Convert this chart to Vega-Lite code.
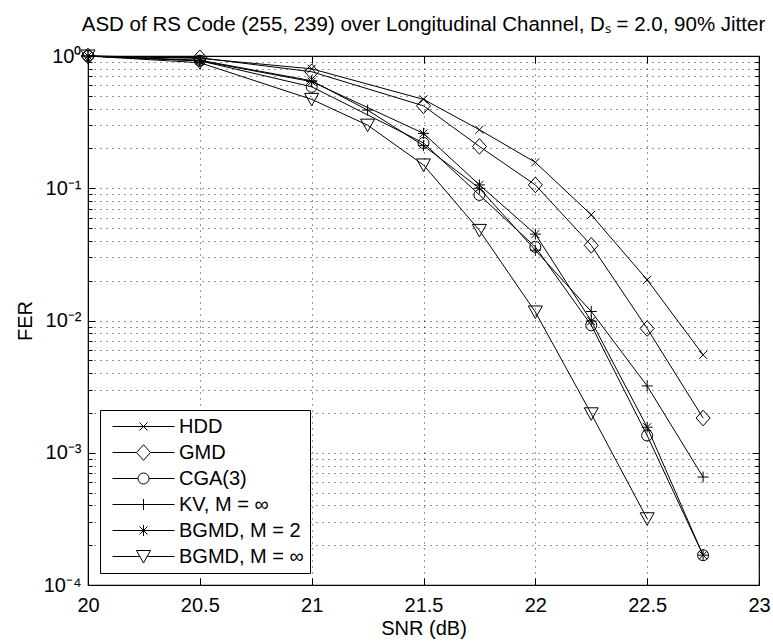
{
  "$schema": "https://vega.github.io/schema/vega-lite/v6.json",
  "width": 671,
  "height": 529,
  "autosize": {"type": "none"},
  "padding": {"left": 88, "top": 56, "right": 14, "bottom": 56},
  "background": "white",
  "title": {
    "text": "ASD of RS Code (255, 239) over Longitudinal Channel, Dₛ = 2.0, 90% Jitter",
    "font": "Liberation Sans",
    "fontSize": 20.5,
    "fontWeight": "normal",
    "color": "black",
    "anchor": "middle",
    "offset": 11
  },
  "config": {
    "view": {"stroke": "black", "strokeWidth": 1.2},
    "axis": {
      "labelFont": "Liberation Sans",
      "labelFontSize": 20,
      "labelColor": "black",
      "titleFont": "Liberation Sans",
      "titleFontSize": 20,
      "titleFontWeight": "normal",
      "titleColor": "black",
      "domainColor": "black",
      "tickColor": "black",
      "gridColor": "black",
      "gridDash": [1, 5],
      "gridOpacity": 0.85
    }
  },
  "data": {
    "values": [
      {"s": "HDD", "x": 20, "y": 1},
      {"s": "HDD", "x": 20.5, "y": 0.96},
      {"s": "HDD", "x": 21, "y": 0.8},
      {"s": "HDD", "x": 21.5, "y": 0.47},
      {"s": "HDD", "x": 21.75, "y": 0.277},
      {"s": "HDD", "x": 22, "y": 0.157},
      {"s": "HDD", "x": 22.25, "y": 0.063},
      {"s": "HDD", "x": 22.5, "y": 0.0203},
      {"s": "HDD", "x": 22.75, "y": 0.0055},
      {"s": "GMD", "x": 20, "y": 1},
      {"s": "GMD", "x": 20.5, "y": 0.97},
      {"s": "GMD", "x": 21, "y": 0.76},
      {"s": "GMD", "x": 21.5, "y": 0.42},
      {"s": "GMD", "x": 21.75, "y": 0.207},
      {"s": "GMD", "x": 22, "y": 0.106},
      {"s": "GMD", "x": 22.25, "y": 0.037},
      {"s": "GMD", "x": 22.5, "y": 0.0087},
      {"s": "GMD", "x": 22.75, "y": 0.00183},
      {"s": "CGA(3)", "x": 20, "y": 1},
      {"s": "CGA(3)", "x": 20.5, "y": 0.92},
      {"s": "CGA(3)", "x": 21, "y": 0.585},
      {"s": "CGA(3)", "x": 21.5, "y": 0.22},
      {"s": "CGA(3)", "x": 21.75, "y": 0.089},
      {"s": "CGA(3)", "x": 22, "y": 0.036},
      {"s": "CGA(3)", "x": 22.25, "y": 0.0092},
      {"s": "CGA(3)", "x": 22.5, "y": 0.00135},
      {"s": "CGA(3)", "x": 22.75, "y": 0.000168},
      {"s": "KV, M = ∞", "x": 20, "y": 1},
      {"s": "KV, M = ∞", "x": 20.5, "y": 0.93},
      {"s": "KV, M = ∞", "x": 21, "y": 0.65},
      {"s": "KV, M = ∞", "x": 21.25, "y": 0.39},
      {"s": "KV, M = ∞", "x": 21.5, "y": 0.21},
      {"s": "KV, M = ∞", "x": 21.75, "y": 0.1},
      {"s": "KV, M = ∞", "x": 22, "y": 0.034},
      {"s": "KV, M = ∞", "x": 22.25, "y": 0.0117},
      {"s": "KV, M = ∞", "x": 22.5, "y": 0.0032},
      {"s": "KV, M = ∞", "x": 22.75, "y": 0.000655},
      {"s": "BGMD, M = 2", "x": 20, "y": 1},
      {"s": "BGMD, M = 2", "x": 20.5, "y": 0.92},
      {"s": "BGMD, M = 2", "x": 21, "y": 0.64},
      {"s": "BGMD, M = 2", "x": 21.5, "y": 0.26},
      {"s": "BGMD, M = 2", "x": 21.75, "y": 0.106},
      {"s": "BGMD, M = 2", "x": 22, "y": 0.045},
      {"s": "BGMD, M = 2", "x": 22.25, "y": 0.0099},
      {"s": "BGMD, M = 2", "x": 22.5, "y": 0.00156},
      {"s": "BGMD, M = 2", "x": 22.75, "y": 0.000168},
      {"s": "BGMD, M = ∞", "x": 20, "y": 1},
      {"s": "BGMD, M = ∞", "x": 20.5, "y": 0.89},
      {"s": "BGMD, M = ∞", "x": 21, "y": 0.47},
      {"s": "BGMD, M = ∞", "x": 21.25, "y": 0.3},
      {"s": "BGMD, M = ∞", "x": 21.5, "y": 0.15},
      {"s": "BGMD, M = ∞", "x": 21.75, "y": 0.048},
      {"s": "BGMD, M = ∞", "x": 22, "y": 0.0116},
      {"s": "BGMD, M = ∞", "x": 22.25, "y": 0.00197},
      {"s": "BGMD, M = ∞", "x": 22.5, "y": 0.000317}
    ]
  },
  "resolve": {"axis": {"x": "independent", "y": "independent"}, "scale": {"shape": "independent"}},
  "layer": [
    {
      "mark": {"type": "line", "color": "black", "strokeWidth": 1},
      "encoding": {
        "x": {
          "field": "x", "type": "quantitative",
          "scale": {"domain": [20, 23], "nice": false, "zero": false},
          "axis": {
            "title": "SNR (dB)",
            "values": [20, 20.5, 21, 21.5, 22, 22.5, 23],
            "labelExpr": "'' + datum.value",
            "tickSize": -7,
            "labelPadding": 17,
            "titlePadding": 3,
            "grid": true,
            "labelFlush": false
          }
        },
        "y": {
          "field": "y", "type": "quantitative",
          "scale": {"type": "log", "domain": [0.0001, 1], "nice": false},
          "axis": {
            "title": "FER",
            "values": [0.0001, 0.0002, 0.0003, 0.0004, 0.0005, 0.0006, 0.0007, 0.0008, 0.0009, 0.001, 0.002, 0.003, 0.004, 0.005, 0.006, 0.007, 0.008, 0.009, 0.01, 0.02, 0.03, 0.04, 0.05, 0.06, 0.07, 0.08, 0.09, 0.1, 0.2, 0.3, 0.4, 0.5, 0.6, 0.7, 0.8, 0.9, 1],
            "labelExpr": "{'1': '10⁰', '0.1': '10⁻¹', '0.01': '10⁻²', '0.001': '10⁻³', '0.0001': '10⁻⁴'}['' + datum.value] || ''",
            "tickSize": {"condition": {"test": "indexof([1, 0.1, 0.01, 0.001, 0.0001], datum.value) >= 0", "value": -7}, "value": -4},
            "labelPadding": 14,
            "titlePadding": 8,
            "grid": true,
            "labelFlush": false,
            "labelOverlap": false
          }
        },
        "detail": {"field": "s"}
      }
    },
    {
      "mark": {"type": "point", "filled": false, "color": "black", "strokeWidth": 1, "opacity": 1, "size": 100},
      "encoding": {
        "x": {
          "field": "x", "type": "quantitative",
          "axis": {"orient": "top", "values": [20, 20.5, 21, 21.5, 22, 22.5, 23], "labels": false, "title": null, "domain": false, "grid": false, "tickSize": -7}
        },
        "y": {
          "field": "y", "type": "quantitative",
          "axis": {"orient": "right", "values": [0.0001, 0.0002, 0.0003, 0.0004, 0.0005, 0.0006, 0.0007, 0.0008, 0.0009, 0.001, 0.002, 0.003, 0.004, 0.005, 0.006, 0.007, 0.008, 0.009, 0.01, 0.02, 0.03, 0.04, 0.05, 0.06, 0.07, 0.08, 0.09, 0.1, 0.2, 0.3, 0.4, 0.5, 0.6, 0.7, 0.8, 0.9, 1], "labels": false, "title": null, "domain": false, "grid": false,
            "tickSize": {"condition": {"test": "indexof([1, 0.1, 0.01, 0.001, 0.0001], datum.value) >= 0", "value": -7}, "value": -4}}
        },
        "shape": {
          "field": "s", "type": "nominal",
          "scale": {
            "domain": ["HDD", "GMD", "CGA(3)", "KV, M = ∞", "BGMD, M = 2", "BGMD, M = ∞"],
            "range": [
              "M-0.8,-0.8L0.8,0.8M-0.8,0.8L0.8,-0.8",
              "M-1.4,0L0,-1.56L1.4,0L0,1.56Z",
              "M-1.1,0A1.1,1.1 0 1,0 1.1,0A1.1,1.1 0 1,0 -1.1,0Z",
              "M-1.1,0L1.1,0M0,-1.1L0,1.1",
              "M-1.1,0L1.1,0M0,-1.1L0,1.1M-0.8,-0.8L0.8,0.8M-0.8,0.8L0.8,-0.8",
              "M-1.4,-1.2L1.4,-1.2L0,1.3Z"
            ]
          },
          "legend": null
        }
      }
    },
    {
      "transform": [{"filter": "datum.x > 100"}],
      "mark": {"type": "point", "filled": false, "color": "black", "strokeWidth": 1, "opacity": 1},
      "encoding": {
        "x": {"field": "x", "type": "quantitative", "axis": null},
        "y": {"field": "y", "type": "quantitative", "axis": null},
        "shape": {
          "field": "s", "type": "nominal",
          "scale": {
            "domain": ["HDD", "GMD", "CGA(3)", "KV, M = ∞", "BGMD, M = 2", "BGMD, M = ∞"],
            "range": [
              "M-0.4,0L5.8,0M2.3,-0.4L3.1,0.4M2.3,0.4L3.1,-0.4",
              "M-0.4,0L2,0M3.4,0L5.8,0M2,0L2.7,-0.78L3.4,0L2.7,0.78Z",
              "M-0.4,0L2.15,0M3.25,0L5.8,0M2.15,0A0.55,0.55 0 1,0 3.25,0A0.55,0.55 0 1,0 2.15,0Z",
              "M-0.4,0L5.8,0M2.7,-0.55L2.7,0.55",
              "M-0.4,0L5.8,0M2.7,-0.55L2.7,0.55M2.3,-0.4L3.1,0.4M2.3,0.4L3.1,-0.4",
              "M-0.4,0L2.34,0M3.06,0L5.8,0M2,-0.6L3.4,-0.6L2.7,0.65Z"
            ]
          },
          "legend": {
            "orient": "bottom-left",
            "offset": 12,
            "title": null,
            "strokeColor": "black",
            "fillColor": "white",
            "padding": 6,
            "labelFont": "Liberation Sans",
            "labelFontSize": 20,
            "labelColor": "black",
            "labelOffset": 52,
            "rowPadding": 5,
            "symbolSize": 400,
            "symbolStrokeWidth": 1,
            "symbolStrokeColor": "black",
            "symbolFillColor": "transparent",
            "symbolOpacity": 1
          }
        }
      }
    }
  ]
}
